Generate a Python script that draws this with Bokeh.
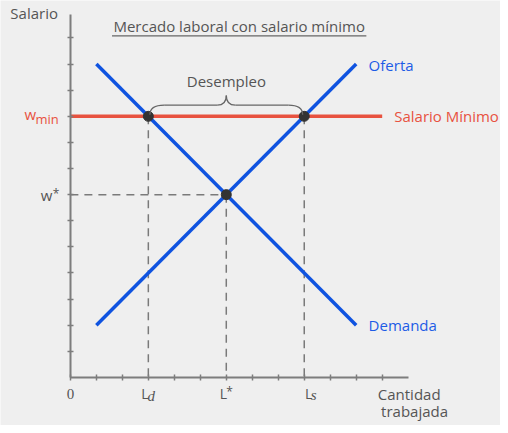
from bokeh.plotting import figure
from bokeh.models import Range1d, LinearAxis, FixedTicker
from bokeh.core.properties import value
from bokeh.embed import file_html
from bokeh.resources import INLINE

# ---------------- data ----------------
qty_ticks = list(range(0, 13))        # x-axis tick positions
wage_ticks = list(range(1, 14))       # y-axis tick positions
curve_x = [1, 11]
supply_y = [2, 12]                    # Oferta
demand_y = [12, 2]                    # Demanda
w_min = 10
w_star = 7
L_d = 3
L_star = 6
L_s = 9
min_wage_x = [0, 12]
x_axis_bounds = (0, 13)
y_axis_bounds = (0, 13.9)

# ---------------- styles ----------------
BG = "#efefef"
BLUE = "#0f53e0"
BLUE_TXT = "#1d5ce6"
RED = "#e8523f"
GRAY_TXT = "#555555"
AXIS = "#7d7d7d"
DASH = "#7a7a7a"

W, H = 500, 425
SX, SY = W / 508, H / 433            # reference -> figure scale
PXX, PXY = 26.4 * SX, 26.6 * SY      # pixels per data unit
OX, OY = 71 * SX, 384 * SY           # data origin in figure pixels

p = figure(width=W, height=H,
           x_range=Range1d(-OX / PXX, (W - OX) / PXX),
           y_range=Range1d(-(H - OY) / PXY, OY / PXY),
           output_backend="svg", toolbar_location=None,
           x_axis_type=None, y_axis_type=None, min_border=0)
p.outline_line_color = None
p.background_fill_color = BG
p.border_fill_color = BG

# axes
xaxis = LinearAxis(fixed_location=0, bounds=x_axis_bounds,
                   ticker=FixedTicker(ticks=qty_ticks),
                   major_label_overrides={t: ("0" if t == 0 else "") for t in qty_ticks})
yaxis = LinearAxis(fixed_location=0, bounds=y_axis_bounds,
                   ticker=FixedTicker(ticks=wage_ticks),
                   major_label_overrides={t: "" for t in wage_ticks})
for ax in (xaxis, yaxis):
    ax.axis_line_color = AXIS
    ax.axis_line_width = 2
    ax.major_tick_line_color = AXIS
    ax.major_tick_line_width = 1.5
    ax.major_tick_in = 3
    ax.major_tick_out = 3
    ax.minor_tick_line_color = None
    ax.major_label_text_font = "Liberation Serif"
    ax.major_label_text_font_size = "15px"
    ax.major_label_text_color = GRAY_TXT
xaxis.major_label_standoff = 9
p.add_layout(xaxis, "below")
p.add_layout(yaxis, "left")

# dashed guide lines
p.segment(x0=[L_d, L_s, L_star, 0], y0=[w_min, w_min, w_star, w_star],
          x1=[L_d, L_s, L_star, L_star], y1=[0, 0, 0, w_star],
          line_color=DASH, line_width=1.5, line_dash="8 6")

# minimum wage line
p.line(min_wage_x, [w_min, w_min], line_color=RED, line_width=3.5)

# supply and demand
p.line(curve_x, supply_y, line_color=BLUE, line_width=3.5)
p.line(curve_x, demand_y, line_color=BLUE, line_width=3.5)

# points
p.scatter([L_d, L_s, L_star], [w_min, w_min, w_star], size=10,
          fill_color="#333333", line_color="#333333")

# brace over unemployment gap
xl, xr, xm = L_d + 0.06, L_s - 0.06, (L_d + L_s) / 2
y0, y1, y2 = w_min + 0.06, w_min + 0.43, w_min + 0.8
rx, rt = 0.55, 0.35
p.quadratic(x0=[xl, xm - rt, xm, xr - rx], y0=[y0, y1, y2, y1],
            x1=[xl + rx, xm, xm + rt, xr], y1=[y1, y2, y1, y0],
            cx=[xl, xm, xm, xr], cy=[y1, y1, y1, y1],
            line_color="#666666", line_width=1.3)
p.segment(x0=[xl + rx, xm + rt], y0=[y1, y1], x1=[xm - rt, xr - rx], y1=[y1, y1],
          line_color="#666666", line_width=1.3)

def fx(sx):
    return (sx - 71) / 26.4

def fy(sy):
    return (384 - sy) / 26.6

def label(sx, sy, txt, color=GRAY_TXT, size=15, align="left",
          font="Open Sans", style="normal"):
    # sx, sy: reference pixel position of the text baseline
    shift = 0.43 * size           # compensate baseline placement
    p.text(x=[fx(sx)], y=[fy(sy - shift)], text=[txt],
           text_font=value(font), text_font_size=value(f"{size}px"),
           text_font_style=style, text_color=color, text_align=align,
           text_baseline="alphabetic")

# title with underline
label(242.5, 32, "Mercado laboral con salario mínimo", align="center")
p.segment(x0=[fx(113.3)], y0=[fy(36)], x1=[fx(371.7)], y1=[fy(36)],
          line_color="#666666", line_width=1.3)

# plain gray labels
label(10, 19.5, "Salario")
label(229.5, 88.3, "Desempleo", align="center")
label(383.3, 407, "Cantidad")
label(386.7, 425, "trabajada")

# curve labels
label(374, 72.3, "Oferta", color=BLUE_TXT)
label(374, 337.3, "Demanda", color=BLUE_TXT)
label(400, 124.3, "Salario Mínimo", color=RED)

# w_min
label(24.3, 121.7, "w", color=RED)
label(35.5, 126.7, "min", color=RED, size=13)

# w*
label(52.7, 205, "w", align="right")
label(53, 201.3, "*", size=12)

# x labels L_d, L*, L_s
for sx in (143, 222.7, 309.3):
    label(sx, 406.7, "L", size=14)
label(149.3, 409.3, "d", size=15, font="Liberation Serif", style="italic")
label(315.3, 408.3, "s", size=15, font="Liberation Serif", style="italic")
label(229.3, 403.3, "*", size=12)

open("out.html", "w").write(file_html(p, INLINE))
